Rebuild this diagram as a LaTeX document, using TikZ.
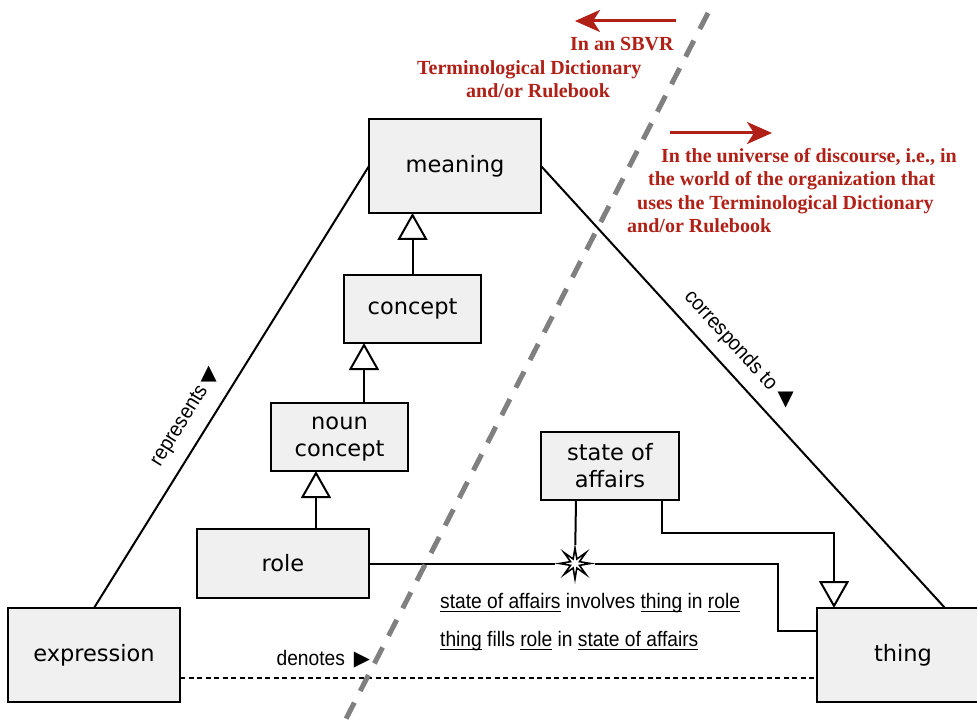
\documentclass[tikz,border=0pt]{standalone}
\usepackage{fontspec}
\setmainfont{DejaVu Sans}
\newfontfamily\labelfont[FakeStretch=0.915]{Liberation Sans}
\newfontfamily\notefont{Liberation Serif}
\usetikzlibrary{positioning,arrows.meta,shapes.geometric}
\definecolor{boxgray}{HTML}{F0F0F0}
\definecolor{notered}{RGB}{176,32,22}
\definecolor{divgray}{RGB}{128,128,128}
\newcommand{\uterm}[1]{\leavevmode\setbox0=\hbox{#1}\rlap{\rule[-4pt]{\wd0}{1.3pt}}\box0\relax}

\tikzset{
  entity/.style={draw, line width=2.2pt, fill=boxgray, align=center, inner sep=0pt,
    outer sep=0pt, font=\fontsize{22.5}{27}\selectfont},
  link/.style={line width=2pt},
  isa/.style={link, -{Triangle[fill=white, length=27pt, width=30pt]}},
  junction/.style={star, star points=8, star point ratio=3.2, draw, fill=white,
    line width=1.6pt, minimum size=31pt, inner sep=0pt},
  edgelabel/.style={font=\labelfont\fontsize{21}{21}\selectfont, inner sep=0pt},
  pointer/.style={font=\fontsize{21}{21}\selectfont, inner sep=0pt},
  note/.style={text=notered, font=\notefont\bfseries\fontsize{20}{23.5}\selectfont,
    align=left, inner sep=0pt, anchor=base west},
  notearrow/.style={draw=notered, line width=3pt, -{Stealth[length=25pt, width=22pt, inset=7pt]}},
  divider/.style={draw=divgray, line width=5pt, dash pattern=on 18pt off 13pt}
}

\begin{document}
\begin{tikzpicture}[x=1pt, y=-1pt]
\useasboundingbox (0,0) rectangle (977,727);

\node[entity, minimum width=172pt, minimum height=94pt] (meaning) at (455,166) {meaning};
\node[entity, minimum width=137pt, minimum height=68pt] (concept) [below=62pt of meaning, xshift=-42.5pt] {concept};
\node[entity, minimum width=137pt, minimum height=68pt, text depth=1pt] (noun) [below=60pt of concept, xshift=-73pt] {noun\\concept};
\node[entity, minimum width=172pt, minimum height=69pt] (role) [below=58pt of noun, xshift=-56.5pt] {role};
\node[entity, minimum width=138pt, minimum height=68pt] (soa) at (610,466) {state of\\affairs};
\node[entity, minimum width=172pt, minimum height=94pt] (expression) at (94,655) {expression};
\node[entity, minimum width=172pt, minimum height=94pt] (thing) at (903,655) {thing};
\node[junction] (star) at (575,563.5) {};

\draw[isa] (concept) -- (concept |- meaning.south);
\draw[isa] ([xshift=24.5pt]noun.north) -- ([xshift=24.5pt]noun.north |- concept.south);
\draw[isa] ([xshift=33pt]role.north) -- ([xshift=33pt]role.north |- noun.south);
\draw[isa] ([xshift=52pt]soa.south) -- ++(0,33) -| ([xshift=-69pt]thing.north);

\draw[link] (role) -- (star);
\draw[link] (star) -- ++(203,0) |- ([yshift=24pt]thing.west);
\draw[link] ([xshift=-34pt]soa.south) -- (star);

\draw[link] (expression.north) -- node[edgelabel, sloped, pos=0.384, above=13pt] {represents}
  node[pointer, pos=0.53, xshift=-31pt] {▲} (meaning.west);
\draw[link] (meaning.east) -- node[edgelabel, sloped, pos=0.429, above=11pt] {corresponds to}
  node[pointer, pos=0.529, xshift=31pt] {▼} ([xshift=42pt]thing.north);
\draw[link, dash pattern=on 5pt off 3.5pt] ([yshift=-23pt]expression.east) --
  node[edgelabel, pos=0.225, above=9pt] {denotes\hspace{9pt}{\rmfamily\fontsize{21}{21}\selectfont ▶}}
  ([yshift=-23pt]thing.west);

\node[edgelabel, anchor=base west, align=left, font=\labelfont\fontsize{21}{38}\selectfont] (facts) at (440,646)
  {\uterm{state of affairs} involves \uterm{thing} in \uterm{role}\\
   \uterm{thing} fills \uterm{role} in \uterm{state of affairs}};

\node[note] (sbvr) at (417,98) {\hspace*{153pt}In an SBVR\\Terminological Dictionary\\\hspace*{49pt}and/or Rulebook};
\node[note] (world) at (627,233) {\hspace*{34pt}In the universe of discourse, i.e., in\\
  \hspace*{21pt}the world of the organization that\\
  \hspace*{10pt}uses the Terminological Dictionary\\and/or Rulebook};

\coordinate (sbvr-from) at (676,21);
\coordinate (sbvr-to) at (575,21);
\coordinate (world-from) at (670,133);
\coordinate (world-to) at (772,133);
\draw[notearrow] (sbvr-from) -- (sbvr-to);
\draw[notearrow] (world-from) -- (world-to);

\coordinate (div-top) at (708,13);
\coordinate (div-bottom) at (330,750);
\draw[divider] (div-top) -- (div-bottom);
\end{tikzpicture}
\end{document}
